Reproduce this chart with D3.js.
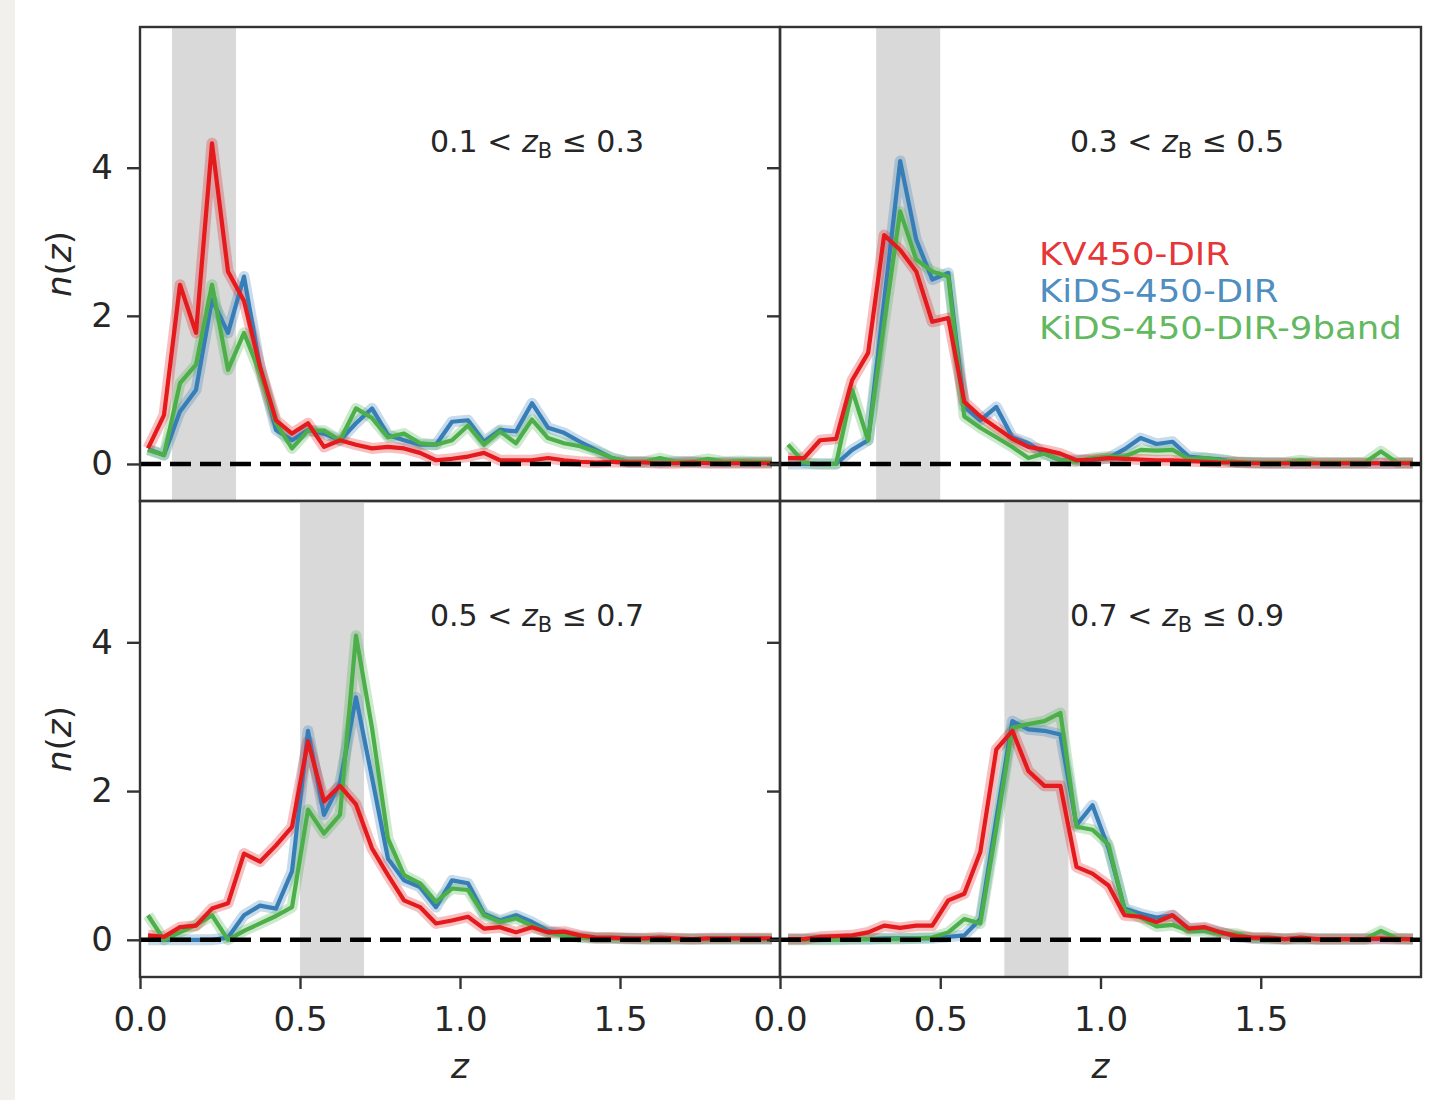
<!DOCTYPE html>
<html><head><meta charset="utf-8">
<script src="https://cdn.jsdelivr.net/npm/d3@7"></script>
<style>
html,body{margin:0;padding:0;background:#fff;}
svg text{font-family:"DejaVu Sans",sans-serif;}
</style></head>
<body>
<svg id="chart" width="1446" height="1100"></svg>
<script>
// ---------------- DATA ----------------
const zBins = [0.025,0.075,0.125,0.175,0.225,0.275,0.325,0.375,0.425,0.475,
               0.525,0.575,0.625,0.675,0.725,0.775,0.825,0.875,0.925,0.975,
               1.025,1.075,1.125,1.175,1.225,1.275,1.325,1.375,1.425,1.475,
               1.525,1.575,1.625,1.675,1.725,1.775,1.825,1.875,1.925,1.975];

const seriesNames = ["KV450-DIR","KiDS-450-DIR","KiDS-450-DIR-9band"];
const binLow  = ["0.1","0.3","0.5","0.7"];
const binHigh = ["0.3","0.5","0.7","0.9"];
const bandLow  = [0.1,0.3,0.5,0.7];
const bandHigh = [0.3,0.5,0.7,0.9];
const yTicks = [0,2,4];
const xTicks = [0,0.5,1.0,1.5];
const xTickLabels = ["0.0","0.5","1.0","1.5"];

// panel 1: 0.1 < zB <= 0.3
const kv450_p1 = [0.21,0.66,2.42,1.77,4.33,2.6,2.2,1.31,0.59,0.41, 0.55,0.23,0.32,0.26,0.21,0.23,0.21,0.15,0.05,0.07, 0.1,0.15,0.05,0.05,0.05,0.08,0.05,0.03,0.02,0.03, 0.02,0.02,0.01,0.01,0.02,0.01,0.01,0.01,0.01,0.01];
const kids_p1  = [0.2,0.12,0.71,1.0,2.22,1.77,2.53,1.31,0.46,0.32, 0.46,0.41,0.32,0.55,0.75,0.39,0.32,0.26,0.26,0.57, 0.59,0.3,0.46,0.44,0.82,0.49,0.42,0.3,0.19,0.08, 0.03,0.03,0.02,0.03,0.03,0.02,0.02,0.02,0.02,0.02];
const kids9_p1 = [0.19,0.12,1.09,1.34,2.42,1.27,1.77,1.23,0.55,0.21, 0.45,0.45,0.32,0.75,0.62,0.36,0.41,0.28,0.26,0.32, 0.52,0.26,0.44,0.28,0.6,0.35,0.28,0.24,0.17,0.08, 0.03,0.03,0.08,0.03,0.03,0.07,0.03,0.04,0.03,0.03];
// panel 2: 0.3 < zB <= 0.5
const kv450_p2 = [0.08,0.08,0.32,0.34,1.13,1.5,3.09,2.89,2.6,1.92, 1.97,0.84,0.64,0.49,0.34,0.23,0.19,0.14,0.05,0.06, 0.08,0.07,0.06,0.05,0.05,0.04,0.03,0.02,0.02,0.01, 0.01,0.01,0.01,0.01,0.01,0.01,0.01,0.01,0.01,0.01];
const kids_p2  = [0.0,0.0,0.0,0.0,0.19,0.32,2.2,4.09,3.03,2.49, 2.58,0.77,0.59,0.77,0.36,0.28,0.14,0.05,0.05,0.05, 0.08,0.2,0.35,0.27,0.3,0.1,0.08,0.06,0.02,0.02, 0.01,0.01,0.01,0.01,0.01,0.01,0.01,0.01,0.01,0.01];
const kids9_p2 = [0.26,0.02,0.0,0.0,1.0,0.32,1.9,3.41,2.76,2.6, 2.53,0.64,0.49,0.36,0.23,0.08,0.14,0.05,0.03,0.08, 0.1,0.1,0.19,0.18,0.19,0.07,0.08,0.05,0.03,0.02, 0.02,0.02,0.05,0.02,0.02,0.02,0.02,0.17,0.02,0.02];
// panel 3: 0.5 < zB <= 0.7
const kv450_p3 = [0.06,0.04,0.17,0.19,0.42,0.49,1.16,1.05,1.27,1.52, 2.67,1.86,2.07,1.82,1.23,0.87,0.53,0.44,0.22,0.26, 0.31,0.15,0.17,0.1,0.17,0.1,0.11,0.06,0.03,0.03, 0.02,0.02,0.03,0.02,0.01,0.02,0.02,0.02,0.02,0.02];
const kids_p3  = [0.0,0.0,0.0,0.0,0.0,0.03,0.33,0.46,0.42,0.92, 2.81,1.68,2.11,3.26,2.18,1.09,0.8,0.71,0.44,0.8, 0.76,0.35,0.26,0.33,0.24,0.12,0.08,0.04,0.02,0.02, 0.02,0.01,0.01,0.01,0.01,0.01,0.01,0.01,0.01,0.01];
const kids9_p3 = [0.33,0.0,0.1,0.2,0.33,0.0,0.12,0.22,0.32,0.44, 1.75,1.43,1.68,4.09,2.85,1.36,0.87,0.76,0.51,0.69, 0.67,0.33,0.24,0.29,0.19,0.1,0.06,0.03,0.02,0.02, 0.01,0.01,0.01,0.01,0.01,0.01,0.01,0.01,0.01,0.01];
// panel 4: 0.7 < zB <= 0.9
const kv450_p4 = [0.01,0.01,0.04,0.05,0.06,0.1,0.19,0.16,0.19,0.19, 0.53,0.62,1.18,2.56,2.81,2.27,2.07,2.07,0.98,0.89, 0.73,0.33,0.31,0.24,0.33,0.15,0.17,0.1,0.05,0.03, 0.03,0.01,0.03,0.01,0.01,0.01,0.01,0.02,0.01,0.01];
const kids_p4  = [0.01,0.01,0.01,0.01,0.01,0.01,0.02,0.02,0.02,0.02, 0.04,0.06,0.28,1.63,2.94,2.83,2.81,2.76,1.54,1.81, 1.23,0.42,0.35,0.3,0.33,0.15,0.15,0.1,0.04,0.02, 0.01,0.01,0.01,0.01,0.01,0.01,0.01,0.01,0.01,0.01];
const kids9_p4 = [0.0,0.0,0.0,0.0,0.01,0.01,0.01,0.01,0.02,0.03, 0.1,0.28,0.22,1.5,2.85,2.9,2.94,3.05,1.52,1.48, 1.28,0.4,0.3,0.18,0.2,0.12,0.12,0.08,0.08,0.02, 0.02,0.01,0.01,0.01,0.01,0.01,0.01,0.12,0.02,0.01];

// ---------------- LAYOUT / STYLE ----------------
const colors = ["#e41a1c","#377eb8","#4daf4a"];
const drawOrder = [1,2,0]; // blue, green, red (red on top)
const panelData = [
  [kv450_p1,kids_p1,kids9_p1],
  [kv450_p2,kids_p2,kids9_p2],
  [kv450_p3,kids_p3,kids9_p3],
  [kv450_p4,kids_p4,kids9_p4]
];
const panelBoxes = [
  {x0:140,x1:780,y0:27,y1:501},
  {x0:780,x1:1421,y0:27,y1:501},
  {x0:140,x1:780,y0:501,y1:977},
  {x0:780,x1:1421,y0:501,y1:977}
];
const textColor = "#262626";
const FS = 34;

const svg = d3.select("#chart");
svg.append("rect").attr("x",0).attr("y",0).attr("width",1446).attr("height",1100).attr("fill","#fff");
svg.append("rect").attr("x",0).attr("y",0).attr("width",15).attr("height",1100).attr("fill","#f1f0ed");

panelBoxes.forEach((b,pi)=>{
  const x = d3.scaleLinear().domain([0,2.0]).range([b.x0,b.x1]);
  const y = d3.scaleLinear().domain([-0.5, 5.9]).range([b.y1,b.y0]);
  const g = svg.append("g");
  const clipId = "clip"+pi;
  svg.append("clipPath").attr("id",clipId).append("rect")
    .attr("x",b.x0).attr("y",b.y0).attr("width",b.x1-b.x0).attr("height",b.y1-b.y0);
  const inner = g.append("g").attr("clip-path",`url(#${clipId})`);
  // grey band
  inner.append("rect")
    .attr("x",x(bandLow[pi])).attr("width",x(bandHigh[pi])-x(bandLow[pi]))
    .attr("y",b.y0).attr("height",b.y1-b.y0)
    .attr("fill","#d9d9d9");
  const line = d3.line().x((d,i)=>x(zBins[i])).y(d=>y(d));
  // uncertainty shading (translucent wide stroke)
  drawOrder.forEach(si=>{
    inner.append("path").datum(panelData[pi][si])
      .attr("d",line).attr("fill","none")
      .attr("stroke",colors[si]).attr("stroke-opacity",0.28)
      .attr("stroke-width",11).attr("stroke-linejoin","round");
  });
  drawOrder.forEach(si=>{
    inner.append("path").datum(panelData[pi][si])
      .attr("d",line).attr("fill","none")
      .attr("stroke",colors[si]).attr("stroke-width",4.2)
      .attr("stroke-linejoin","round").attr("stroke-linecap","butt");
  });
  // zero dashed line
  inner.append("line").attr("x1",b.x0).attr("x2",b.x1)
    .attr("y1",y(0)).attr("y2",y(0))
    .attr("stroke","#000").attr("stroke-width",4.4).attr("stroke-dasharray","21,9");
  // frame
  g.append("rect").attr("x",b.x0).attr("y",b.y0).attr("width",b.x1-b.x0).attr("height",b.y1-b.y0)
    .attr("fill","none").attr("stroke","#333").attr("stroke-width",2.4);
  // y axis ticks
  const yAxis = d3.axisLeft(y).tickValues(yTicks).tickSize(13).tickPadding(14)
    .tickFormat(pi%2===0 ? d3.format("d") : ()=> "");
  const ya = g.append("g").attr("transform",`translate(${b.x0},0)`).call(yAxis);
  ya.select(".domain").remove();
  ya.selectAll(".tick line").attr("stroke","#333").attr("stroke-width",2.4);
  ya.selectAll(".tick text").attr("font-size",FS).attr("fill",textColor).attr("font-family","DejaVu Sans");
  // x axis ticks on bottom panels
  if (pi>=2) {
    const xAxis = d3.axisBottom(x).tickValues(xTicks).tickSize(12).tickPadding(18)
      .tickFormat((d,i)=>xTickLabels[i]);
    const xa = g.append("g").attr("transform",`translate(0,${b.y1})`).call(xAxis);
    xa.select(".domain").remove();
    xa.selectAll(".tick line").attr("stroke","#333").attr("stroke-width",2.4);
    xa.selectAll(".tick text").attr("font-size",FS).attr("fill",textColor).attr("font-family","DejaVu Sans");
    // x label
    g.append("text").attr("x",(b.x0+b.x1)/2).attr("y",1078).attr("text-anchor","middle")
      .attr("font-size",FS).attr("font-style","italic").attr("fill",textColor).text("z");
  }
  // y label
  if (pi%2===0) {
    const cy = (b.y0+b.y1)/2;
    const t = g.append("text").attr("transform",`translate(71,${cy}) rotate(-90)`)
      .attr("text-anchor","middle").attr("font-size",FS).attr("fill",textColor);
    t.append("tspan").attr("font-style","italic").text("n");
    t.append("tspan").text("(");
    t.append("tspan").attr("font-style","italic").text("z");
    t.append("tspan").text(")");
  }
  // panel label
  const lt = g.append("text").attr("x",b.x0+290).attr("y",b.y0+125)
    .attr("font-size",30).attr("fill",textColor);
  lt.append("tspan").text(binLow[pi]+" < ");
  lt.append("tspan").attr("font-style","italic").text("z");
  lt.append("tspan").attr("font-size",21).attr("dy",6).text("B");
  lt.append("tspan").attr("dy",-6).text(" \u2264 "+binHigh[pi]);
});

// legend (slightly stretched horizontally, as in the reference)
const legendG = svg.append("g").attr("transform","translate(1039,0) scale(1.13,1)");
seriesNames.forEach((n,i)=>{
  legendG.append("text").attr("x",0).attr("y",265+i*37)
    .attr("font-size",31.5).attr("fill",colors[i]).attr("fill-opacity",0.9).text(n);
});
</script>
</body></html>
